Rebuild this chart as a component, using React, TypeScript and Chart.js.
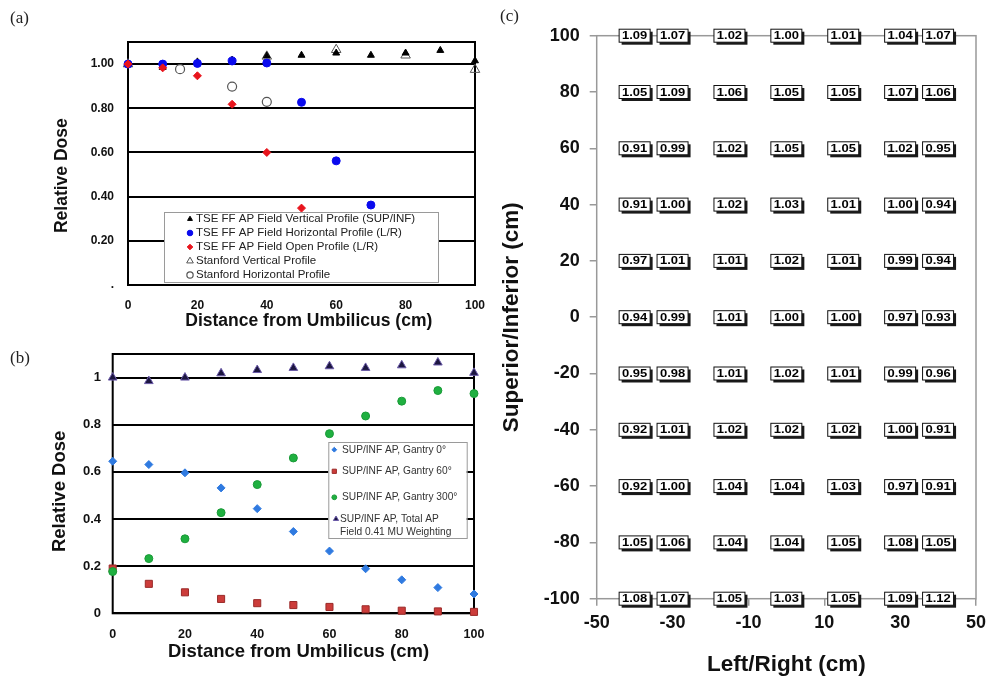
import React, { useEffect, useRef } from 'react';
import { Chart, registerables } from 'chart.js';
import { drawPoint } from 'chart.js/helpers';

Chart.register(...registerables);

const SANS = "'Liberation Sans', Arial, Helvetica, sans-serif";
const SERIF = "'Liberation Serif', 'Times New Roman', serif";

// ---------------- Panel (a) data ----------------
const A_X_TICKS = [0, 20, 40, 60, 80, 100];
const A_Y_TICKS = [0, 0.2, 0.4, 0.6, 0.8, 1.0];
const A_Y_TICK_LABELS = ['.', '0.20', '0.40', '0.60', '0.80', '1.00'];

const A_TSE_VERT_X = [0, 10, 20, 30, 40, 50, 60, 70, 80, 90, 100];
const A_TSE_VERT_Y = [1.0, 0.985, 1.01, 1.018, 1.037, 1.04, 1.05, 1.04, 1.05, 1.062, 1.015];
const A_TSE_HORIZ_X = [0, 10, 20, 30, 40, 50, 60, 70];
const A_TSE_HORIZ_Y = [1.0, 1.0, 1.003, 1.014, 1.005, 0.827, 0.562, 0.362];
const A_TSE_OPEN_X = [0, 10, 20, 30, 40, 50];
const A_TSE_OPEN_Y = [1.0, 0.983, 0.947, 0.818, 0.6, 0.348];
const A_STAN_VERT_X = [0, 40, 60, 80, 100];
const A_STAN_VERT_Y = [1.0, 1.035, 1.065, 1.04, 0.975];
const A_STAN_HORIZ_X = [15, 30, 40];
const A_STAN_HORIZ_Y = [0.977, 0.898, 0.829];
const A_SERIES_NAMES = [
  'TSE FF AP Field Vertical Profile (SUP/INF)',
  'TSE FF AP Field Horizontal Profile (L/R)',
  'TSE FF AP Field Open Profile (L/R)',
  'Stanford Vertical Profile',
  'Stanford Horizontal Profile',
];

// ---------------- Panel (b) data ----------------
const B_X = [0, 10, 20, 30, 40, 50, 60, 70, 80, 90, 100];
const B_X_TICKS = [0, 20, 40, 60, 80, 100];
const B_Y_TICKS = [0, 0.2, 0.4, 0.6, 0.8, 1.0];
const B_Y_TICK_LABELS = ['0', '0.2', '0.4', '0.6', '0.8', '1'];
const B_GANTRY0 = [0.645, 0.631, 0.596, 0.532, 0.444, 0.347, 0.264, 0.189, 0.142, 0.109, 0.082];
const B_GANTRY60 = [0.19, 0.125, 0.089, 0.061, 0.043, 0.035, 0.027, 0.017, 0.011, 0.008, 0.006];
const B_GANTRY300 = [0.177, 0.232, 0.316, 0.427, 0.546, 0.659, 0.762, 0.837, 0.9, 0.945, 0.932];
const B_TOTAL = [1.0, 0.985, 1.0, 1.018, 1.032, 1.041, 1.048, 1.041, 1.052, 1.064, 1.02];
const B_SERIES_NAMES = [
  ['SUP/INF AP, Gantry 0°'],
  ['SUP/INF AP, Gantry 60°'],
  ['SUP/INF AP, Gantry 300°'],
  ['SUP/INF AP, Total AP', 'Field 0.41 MU Weighting'],
];

// ---------------- Panel (c) data ----------------
const C_X_TICKS = [-50, -30, -10, 10, 30, 50];
const C_Y_TICKS = [-100, -80, -60, -40, -20, 0, 20, 40, 60, 80, 100];
const C_COLS = [-40, -30, -15, 0, 15, 30, 40];
const C_ROWS = [100, 80, 60, 40, 20, 0, -20, -40, -60, -80, -100];
const C_ROW_100 = [1.09, 1.07, 1.02, 1.0, 1.01, 1.04, 1.07];
const C_ROW_80 = [1.05, 1.09, 1.06, 1.05, 1.05, 1.07, 1.06];
const C_ROW_60 = [0.91, 0.99, 1.02, 1.05, 1.05, 1.02, 0.95];
const C_ROW_40 = [0.91, 1.0, 1.02, 1.03, 1.01, 1.0, 0.94];
const C_ROW_20 = [0.97, 1.01, 1.01, 1.02, 1.01, 0.99, 0.94];
const C_ROW_0 = [0.94, 0.99, 1.01, 1.0, 1.0, 0.97, 0.93];
const C_ROW_M20 = [0.95, 0.98, 1.01, 1.02, 1.01, 0.99, 0.96];
const C_ROW_M40 = [0.92, 1.01, 1.02, 1.02, 1.02, 1.0, 0.91];
const C_ROW_M60 = [0.92, 1.0, 1.04, 1.04, 1.03, 0.97, 0.91];
const C_ROW_M80 = [1.05, 1.06, 1.04, 1.04, 1.05, 1.08, 1.05];
const C_ROW_M100 = [1.08, 1.07, 1.05, 1.03, 1.05, 1.09, 1.12];
const C_VALUES = [C_ROW_100, C_ROW_80, C_ROW_60, C_ROW_40, C_ROW_20, C_ROW_0, C_ROW_M20, C_ROW_M40, C_ROW_M60, C_ROW_M80, C_ROW_M100];

// ---------------- helpers ----------------
type MarkStyle = { style: string; radius: number; fill: string; stroke: string; bw: number };

const A_STYLES: MarkStyle[] = [
  { style: 'triangle', radius: 4, fill: '#000', stroke: '#000', bw: 1 },
  { style: 'circle', radius: 4, fill: '#0a0aee', stroke: '#0a0aee', bw: 1 },
  { style: 'rectRot', radius: 4, fill: '#e8141c', stroke: '#e8141c', bw: 1 },
  { style: 'triangle', radius: 5.5, fill: 'rgba(0,0,0,0)', stroke: '#555', bw: 1 },
  { style: 'circle', radius: 4.5, fill: 'rgba(0,0,0,0)', stroke: '#555', bw: 1.2 },
];
const B_STYLES: MarkStyle[] = [
  { style: 'rectRot', radius: 4, fill: '#2f7ae0', stroke: '#2f7ae0', bw: 1 },
  { style: 'rect', radius: 5, fill: '#cc3c3a', stroke: '#9a2a28', bw: 1 },
  { style: 'circle', radius: 4, fill: '#1fb040', stroke: '#1a9a38', bw: 1 },
  { style: 'triangle', radius: 5, fill: '#1c1640', stroke: '#6a5aa8', bw: 1 },
];

function pts(xs: number[], ys: number[]) {
  return xs.map((x, i) => ({ x, y: ys[i] }));
}

function ds(label: string, xs: number[], ys: number[], s: MarkStyle, order: number) {
  return {
    label,
    data: pts(xs, ys),
    showLine: false,
    clip: false,
    order,
    pointStyle: s.style,
    pointRadius: s.radius,
    pointHoverRadius: s.radius,
    pointBackgroundColor: s.fill,
    pointBorderColor: s.stroke,
    pointBorderWidth: s.bw,
  };
}

function framePlugin(id: string, color: string, lw: number) {
  return {
    id,
    beforeDatasetsDraw(chart: any) {
      const { ctx, chartArea: a } = chart;
      ctx.save();
      ctx.strokeStyle = color;
      ctx.lineWidth = lw;
      ctx.strokeRect(a.left, a.top, a.right - a.left, a.bottom - a.top);
      ctx.restore();
    },
  };
}

type LegendEntry = { lines: string[]; y: number; lineGap?: number; markerX: number; textX: number; mark: MarkStyle };

function legendPlugin(id: string, box: { x: number; y: number; w: number; h: number }, entries: LegendEntry[], fontSize: number, color: string, markScale: number) {
  return {
    id,
    afterDatasetsDraw(chart: any) {
      const ctx = chart.ctx;
      ctx.save();
      ctx.fillStyle = '#fff';
      ctx.fillRect(box.x, box.y, box.w, box.h);
      ctx.strokeStyle = '#9a9a9a';
      ctx.lineWidth = 1;
      ctx.strokeRect(box.x + 0.5, box.y + 0.5, box.w, box.h);
      ctx.font = `${fontSize}px ${SANS}`;
      ctx.textBaseline = 'middle';
      ctx.textAlign = 'left';
      entries.forEach((e) => {
        const m = e.mark;
        ctx.fillStyle = m.fill;
        ctx.strokeStyle = m.stroke;
        ctx.lineWidth = m.bw;
        drawPoint(ctx, { pointStyle: m.style, radius: m.radius * markScale, borderWidth: m.bw, rotation: 0 } as any, e.markerX, e.y);
        ctx.fillStyle = color;
        e.lines.forEach((t, i) => ctx.fillText(t, e.textX, e.y + i * (e.lineGap || 13)));
      });
      ctx.restore();
    },
  };
}

function boxesPlugin() {
  return {
    id: 'doseBoxes',
    afterDatasetsDraw(chart: any) {
      const ctx = chart.ctx;
      const meta = chart.getDatasetMeta(0);
      const data = chart.data.datasets[0].data;
      const w = 31;
      const h = 13;
      const sh = 2.5;
      ctx.save();
      meta.data.forEach((el: any, i: number) => {
        const x = el.x;
        const y = el.y;
        ctx.fillStyle = '#1a1a1a';
        ctx.fillRect(x - w / 2 + sh, y - h / 2 + sh, w, h);
        ctx.fillStyle = '#fff';
        ctx.fillRect(x - w / 2, y - h / 2, w, h);
        ctx.strokeStyle = '#111';
        ctx.lineWidth = 1;
        ctx.strokeRect(x - w / 2, y - h / 2, w, h);
        ctx.save();
        ctx.translate(x, y + 0.5);
        ctx.scale(1.18, 1);
        ctx.fillStyle = '#000';
        ctx.font = `bold 11px ${SANS}`;
        ctx.textAlign = 'center';
        ctx.textBaseline = 'middle';
        ctx.fillText(Number(data[i].v).toFixed(2), 0, 0);
        ctx.restore();
      });
      ctx.restore();
    },
  };
}

function fixedTicks(values: number[]) {
  return (scale: any) => {
    scale.ticks = values.map((v) => ({ value: v }));
  };
}

function fitX(h: number) {
  return (s: any) => {
    s.height = h;
    s.paddingLeft = 0;
    s.paddingRight = 0;
    s.paddingTop = 0;
    s.paddingBottom = 0;
  };
}
function fitY(w: number) {
  return (s: any) => {
    s.width = w;
    s.paddingLeft = 0;
    s.paddingRight = 0;
    s.paddingTop = 0;
    s.paddingBottom = 0;
  };
}

// ---------------- configs ----------------
function configA(): any {
  const legendEntries: LegendEntry[] = A_SERIES_NAMES.map((n, i) => ({
    lines: [n],
    y: 219 + i * 14,
    markerX: 190,
    textX: 196,
    mark: A_STYLES[i],
  }));
  return {
    type: 'scatter',
    data: {
      datasets: [
        ds(A_SERIES_NAMES[2], A_TSE_OPEN_X, A_TSE_OPEN_Y, A_STYLES[2], 0),
        ds(A_SERIES_NAMES[1], A_TSE_HORIZ_X, A_TSE_HORIZ_Y, A_STYLES[1], 1),
        ds(A_SERIES_NAMES[0], A_TSE_VERT_X, A_TSE_VERT_Y, A_STYLES[0], 2),
        ds(A_SERIES_NAMES[3], A_STAN_VERT_X, A_STAN_VERT_Y, A_STYLES[3], 3),
        ds(A_SERIES_NAMES[4], A_STAN_HORIZ_X, A_STAN_HORIZ_Y, A_STYLES[4], 4),
      ],
    },
    options: {
      responsive: false,
      animation: false,
      events: [],
      layout: { autoPadding: false, padding: { left: 0, right: 20, top: 42, bottom: 0 } },
      plugins: { legend: { display: false }, tooltip: { enabled: false } },
      scales: {
        x: {
          type: 'linear',
          min: 0,
          max: 100,
          afterBuildTicks: fixedTicks(A_X_TICKS),
          afterFit: fitX(50),
          grid: { display: false },
          border: { display: false },
          ticks: { font: { family: SANS, size: 12, weight: 'bold' }, color: '#111', padding: 5.5, maxRotation: 0 },
          title: {
            display: true,
            text: '   Distance from Umbilicus (cm)',
            font: { family: SANS, size: 17.5, weight: 'bold' },
            color: '#111',
            padding: { top: 0, bottom: 3.5 },
          },
        },
        y: {
          type: 'linear',
          min: 0,
          max: 1.1,
          afterBuildTicks: fixedTicks(A_Y_TICKS),
          afterFit: fitY(128),
          grid: { color: '#000', lineWidth: 2, drawTicks: false },
          border: { display: false },
          ticks: {
            font: { family: SANS, size: 12, weight: 'bold' },
            color: '#111',
            padding: 14,
            callback: (_v: any, i: number) => A_Y_TICK_LABELS[i],
          },
          title: {
            display: true,
            text: 'Relative Dose     ',
            font: { family: SANS, size: 17.5, weight: 'bold' },
            color: '#111',
            padding: { top: 51.5, bottom: 0 },
          },
        },
      },
    },
    plugins: [
      framePlugin('frameA', '#000', 2),
      legendPlugin('legendA', { x: 164, y: 212, w: 274, h: 70 }, legendEntries, 11.5, '#222', 0.7),
    ],
  };
}

function configB(): any {
  const ys = [119.7, 141.3, 167.3, 189];
  const legendEntries: LegendEntry[] = B_SERIES_NAMES.map((n, i) => ({
    lines: n,
    y: ys[i],
    lineGap: 13,
    markerX: i === 3 ? 336 : 334.3,
    textX: i === 3 ? 340 : 342,
    mark: B_STYLES[i],
  }));
  return {
    type: 'scatter',
    data: {
      datasets: [
        ds(B_SERIES_NAMES[3].join(' '), B_X, B_TOTAL, B_STYLES[3], 0),
        ds(B_SERIES_NAMES[2][0], B_X, B_GANTRY300, B_STYLES[2], 1),
        ds(B_SERIES_NAMES[1][0], B_X, B_GANTRY60, B_STYLES[1], 2),
        ds(B_SERIES_NAMES[0][0], B_X, B_GANTRY0, B_STYLES[0], 3),
      ],
    },
    options: {
      responsive: false,
      animation: false,
      events: [],
      layout: { autoPadding: false, padding: { left: 0, right: 21, top: 24, bottom: 0 } },
      plugins: { legend: { display: false }, tooltip: { enabled: false } },
      scales: {
        x: {
          type: 'linear',
          min: 0,
          max: 100,
          afterBuildTicks: fixedTicks(B_X_TICKS),
          afterFit: fitX(63.7),
          grid: { display: false },
          border: { display: false },
          ticks: { font: { family: SANS, size: 12.5, weight: 'bold' }, color: '#111', padding: 6, maxRotation: 0 },
          title: {
            display: true,
            text: '  Distance from Umbilicus (cm)',
            font: { family: SANS, size: 18.5, weight: 'bold' },
            color: '#111',
            padding: { top: 0, bottom: 14.4 },
          },
        },
        y: {
          type: 'linear',
          min: 0,
          max: 1.1,
          afterBuildTicks: fixedTicks(B_Y_TICKS),
          afterFit: fitY(112.7),
          grid: { color: '#000', lineWidth: 2, drawTicks: false },
          border: { display: false },
          ticks: {
            font: { family: SANS, size: 13, weight: 'bold' },
            color: '#111',
            padding: 11.7,
            callback: (_v: any, i: number) => B_Y_TICK_LABELS[i],
          },
          title: {
            display: true,
            text: 'Relative Dose   ',
            font: { family: SANS, size: 18.5, weight: 'bold' },
            color: '#111',
            padding: { top: 48.9, bottom: 0 },
          },
        },
      },
    },
    plugins: [
      framePlugin('frameB', '#000', 2),
      legendPlugin('legendB', { x: 328.3, y: 112, w: 138.4, h: 96 }, legendEntries, 10.2, '#333', 0.6),
    ],
  };
}

function configC(): any {
  const cells: any[] = [];
  C_ROWS.forEach((y, r) => {
    C_COLS.forEach((x, c) => {
      cells.push({ x, y, v: C_VALUES[r][c] });
    });
  });
  return {
    type: 'scatter',
    data: {
      datasets: [
        { label: 'Relative dose', data: cells, pointRadius: 0, pointHoverRadius: 0, showLine: false, clip: false },
      ],
    },
    options: {
      responsive: false,
      animation: false,
      events: [],
      layout: { autoPadding: false, padding: { left: 0, right: 11, top: 35.7, bottom: 0 } },
      plugins: { legend: { display: false }, tooltip: { enabled: false } },
      scales: {
        x: {
          type: 'linear',
          min: -50,
          max: 50,
          afterBuildTicks: fixedTicks(C_X_TICKS),
          afterFit: fitX(91.3),
          grid: { drawOnChartArea: false, drawTicks: true, tickLength: 7, color: '#999', lineWidth: 1.5 },
          border: { display: false },
          ticks: { font: { family: SANS, size: 18, weight: 'bold' }, color: '#111', padding: 6.2, maxRotation: 0 },
          title: {
            display: true,
            text: 'Left/Right (cm)',
            font: { family: SANS, size: 22.5, weight: 'bold' },
            color: '#111',
            padding: { top: 0, bottom: 11.9 },
          },
        },
        y: {
          type: 'linear',
          min: -100,
          max: 100,
          afterBuildTicks: fixedTicks(C_Y_TICKS),
          afterFit: fitY(101.7),
          grid: { drawOnChartArea: false, drawTicks: true, tickLength: 7, color: '#999', lineWidth: 1.5 },
          border: { display: false },
          ticks: { font: { family: SANS, size: 18, weight: 'bold' }, color: '#111', padding: 10 },
          title: {
            display: true,
            text: 'Superior/Inferior (cm)',
            font: { family: SANS, size: 22.5, weight: 'bold' },
            color: '#111',
            padding: { top: 2.9, bottom: 0 },
          },
        },
      },
    },
    plugins: [framePlugin('frameC', '#999', 1.5), boxesPlugin()],
  };
}

function ChartCanvas({ left, top, width, height, make }: { left: number; top: number; width: number; height: number; make: () => any }) {
  const ref = useRef<HTMLCanvasElement | null>(null);
  useEffect(() => {
    if (!ref.current) return;
    const chart = new Chart(ref.current, make());
    return () => chart.destroy();
  }, []);
  return (
    <canvas
      ref={ref}
      width={width}
      height={height}
      style={{ position: 'absolute', left, top, width, height }}
    />
  );
}

const labelStyle = (left: number, top: number): React.CSSProperties => ({
  position: 'absolute',
  left,
  top,
  fontFamily: SERIF,
  fontSize: 17,
  lineHeight: '20px',
  color: '#222',
});

export default function App() {
  return (
    <div style={{ position: 'absolute', left: 0, top: 0, width: 987, height: 677, overflow: 'hidden', background: '#fff' }}>
      <ChartCanvas left={0} top={0} width={495} height={335} make={configA} />
      <ChartCanvas left={0} top={330} width={495} height={347} make={configB} />
      <ChartCanvas left={495} top={0} width={492} height={690} make={configC} />
      <div style={labelStyle(10, 8)}>(a)</div>
      <div style={labelStyle(10, 348)}>(b)</div>
      <div style={labelStyle(500, 6)}>(c)</div>
    </div>
  );
}
